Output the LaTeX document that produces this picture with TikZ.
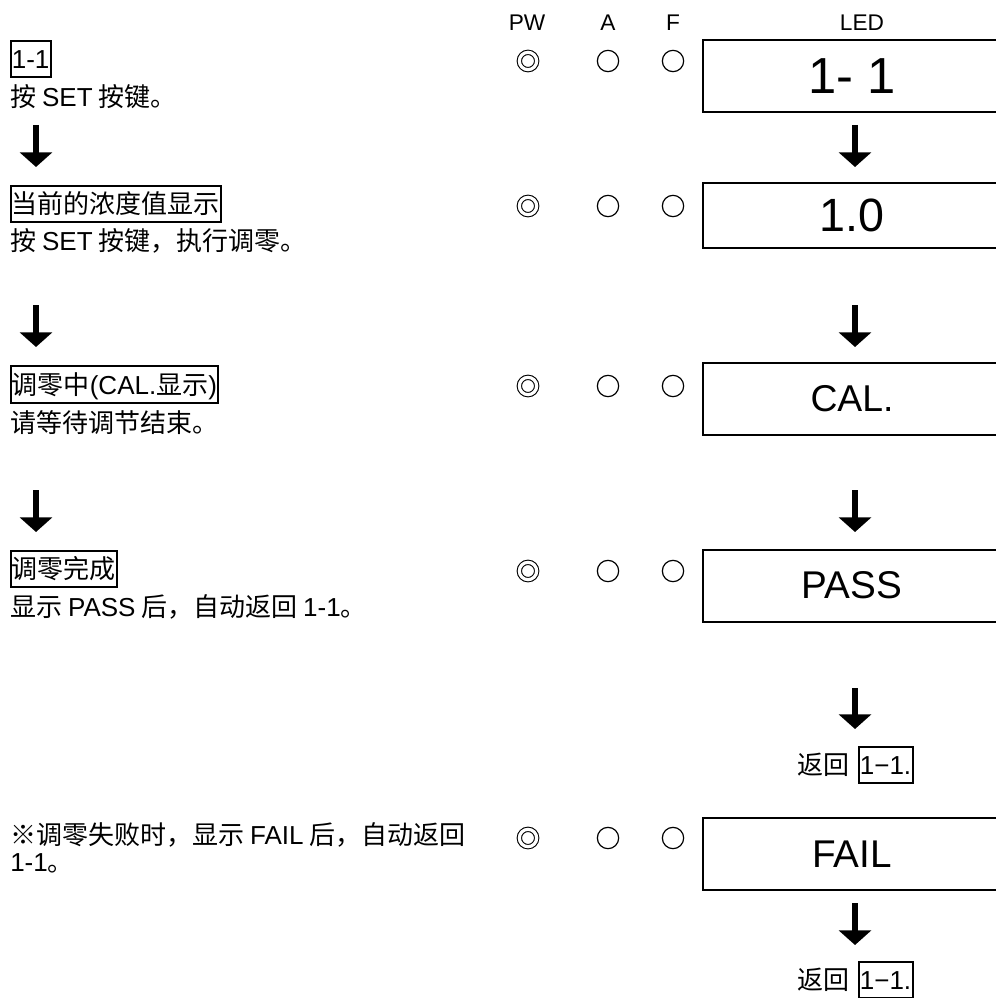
\documentclass[tikz,border=0pt]{standalone}
\usepackage{fontspec}
\setmainfont{Noto Sans CJK SC}
\newfontfamily\latfont{Liberation Sans}
\usetikzlibrary{positioning,arrows.meta}
\newcommand{\en}[1]{{\latfont #1}}

\tikzset{
  txt/.style={font=\fontsize{19.5}{23}\selectfont, inner sep=0pt, text height=17pt, text depth=2.5pt, anchor=west},
  lbl/.style={txt, draw, line width=1.5pt, inner xsep=1pt, inner ysep=4pt},
  hdr/.style={font=\latfont\fontsize{17}{20}\selectfont, anchor=base},
  led/.style={draw, line width=1.5pt, minimum width=223.5pt, minimum height=54pt, inner sep=0pt, font=\latfont\fontsize{#1}{#1}\selectfont},
  lampoff/.style={circle, draw, line width=0.9pt, minimum size=16pt, inner sep=0pt},
  lampon/.style={circle, draw, double, line width=0.8pt, double distance=2.4pt, minimum size=13pt, inner sep=0pt},
  flow/.style={line width=4.7pt, -{Triangle[width=24pt,length=11pt]}}
}

\begin{document}
\begin{tikzpicture}[x=0.75pt,y=-0.75pt]
\useasboundingbox (0,0) rectangle (995,998);

% Header
\node[hdr] (hpw) at (527,31) {PW};
\node[hdr] (ha) at (608,31) {A};
\node[hdr] (hf) at (673,31) {F};
\node[hdr] (hled) at (862,31) {LED};

% Steps (left column)
\node[lbl] (s1) at (9.5,59) {\en{1-1}};
\node[txt] (s1t) at (10,97) {按 \en{SET} 按键。};
\node[lbl] (s2) at (9.5,204) {当前的浓度值显示};
\node[txt] (s2t) at (10,241) {按 \en{SET} 按键，执行调零。};
\node[lbl] (s3) at (9.5,384.5) {调零中\en{(CAL.}显示\en{)}};
\node[txt] (s3t) at (10,423) {请等待调节结束。};
\node[lbl] (s4) at (9.5,569) {调零完成};
\node[txt] (s4t) at (10,607) {显示 \en{PASS} 后，自动返回 \en{1-1}。};
\node[txt] (s5) at (10,835) {※调零失败时，显示 \en{FAIL} 后，自动返回};
\node[txt] (s5t) at (10,862) {\en{1-1}。};

% Lamps
\node[lampon] (pw1) at (528,61) {};
\node[lampoff] (a1) at (608,61) {};
\node[lampoff] (f1) at (673,61) {};
\node[lampon] (pw2) at (528,206) {};
\node[lampoff] (a2) at (608,206) {};
\node[lampoff] (f2) at (673,206) {};
\node[lampon] (pw3) at (528,386) {};
\node[lampoff] (a3) at (608,386) {};
\node[lampoff] (f3) at (673,386) {};
\node[lampon] (pw4) at (528,571) {};
\node[lampoff] (a4) at (608,571) {};
\node[lampoff] (f4) at (673,571) {};
\node[lampon] (pw5) at (528,838) {};
\node[lampoff] (a5) at (608,838) {};
\node[lampoff] (f5) at (673,838) {};

% LED display
\node[led=38] (led1) at (852,76.5) {1- 1};
\node[led=35, minimum height=49pt] (led2) at (852,215.5) {1.0};
\node[led=28] (led3) at (852,399) {CAL.};
\node[led=29] (led4) at (852,585.5) {PASS};
\node[led=29] (led5) at (852,854) {FAIL};

% Return marks
\node[txt] (ret1) at (797,765) {返回};
\node[lbl, right=6pt of ret1] (ret1b) {\en{1−1.}};
\node[txt] (ret2) at (797,980) {返回};
\node[lbl, right=6pt of ret2] (ret2b) {\en{1−1.}};

% Arrows
\coordinate (la1) at (36,125);  \coordinate (lb1) at (36,167);
\coordinate (la2) at (36,305);  \coordinate (lb2) at (36,347);
\coordinate (la3) at (36,490);  \coordinate (lb3) at (36,532);
\coordinate (ra1) at (855,125); \coordinate (rb1) at (855,167);
\coordinate (ra2) at (855,305); \coordinate (rb2) at (855,347);
\coordinate (ra3) at (855,490); \coordinate (rb3) at (855,532);
\coordinate (ra4) at (855,688); \coordinate (rb4) at (855,729);
\coordinate (ra5) at (855,903); \coordinate (rb5) at (855,945);
\draw[flow] (la1) -- (lb1);
\draw[flow] (la2) -- (lb2);
\draw[flow] (la3) -- (lb3);
\draw[flow] (ra1) -- (rb1);
\draw[flow] (ra2) -- (rb2);
\draw[flow] (ra3) -- (rb3);
\draw[flow] (ra4) -- (rb4);
\draw[flow] (ra5) -- (rb5);
\end{tikzpicture}
\end{document}
